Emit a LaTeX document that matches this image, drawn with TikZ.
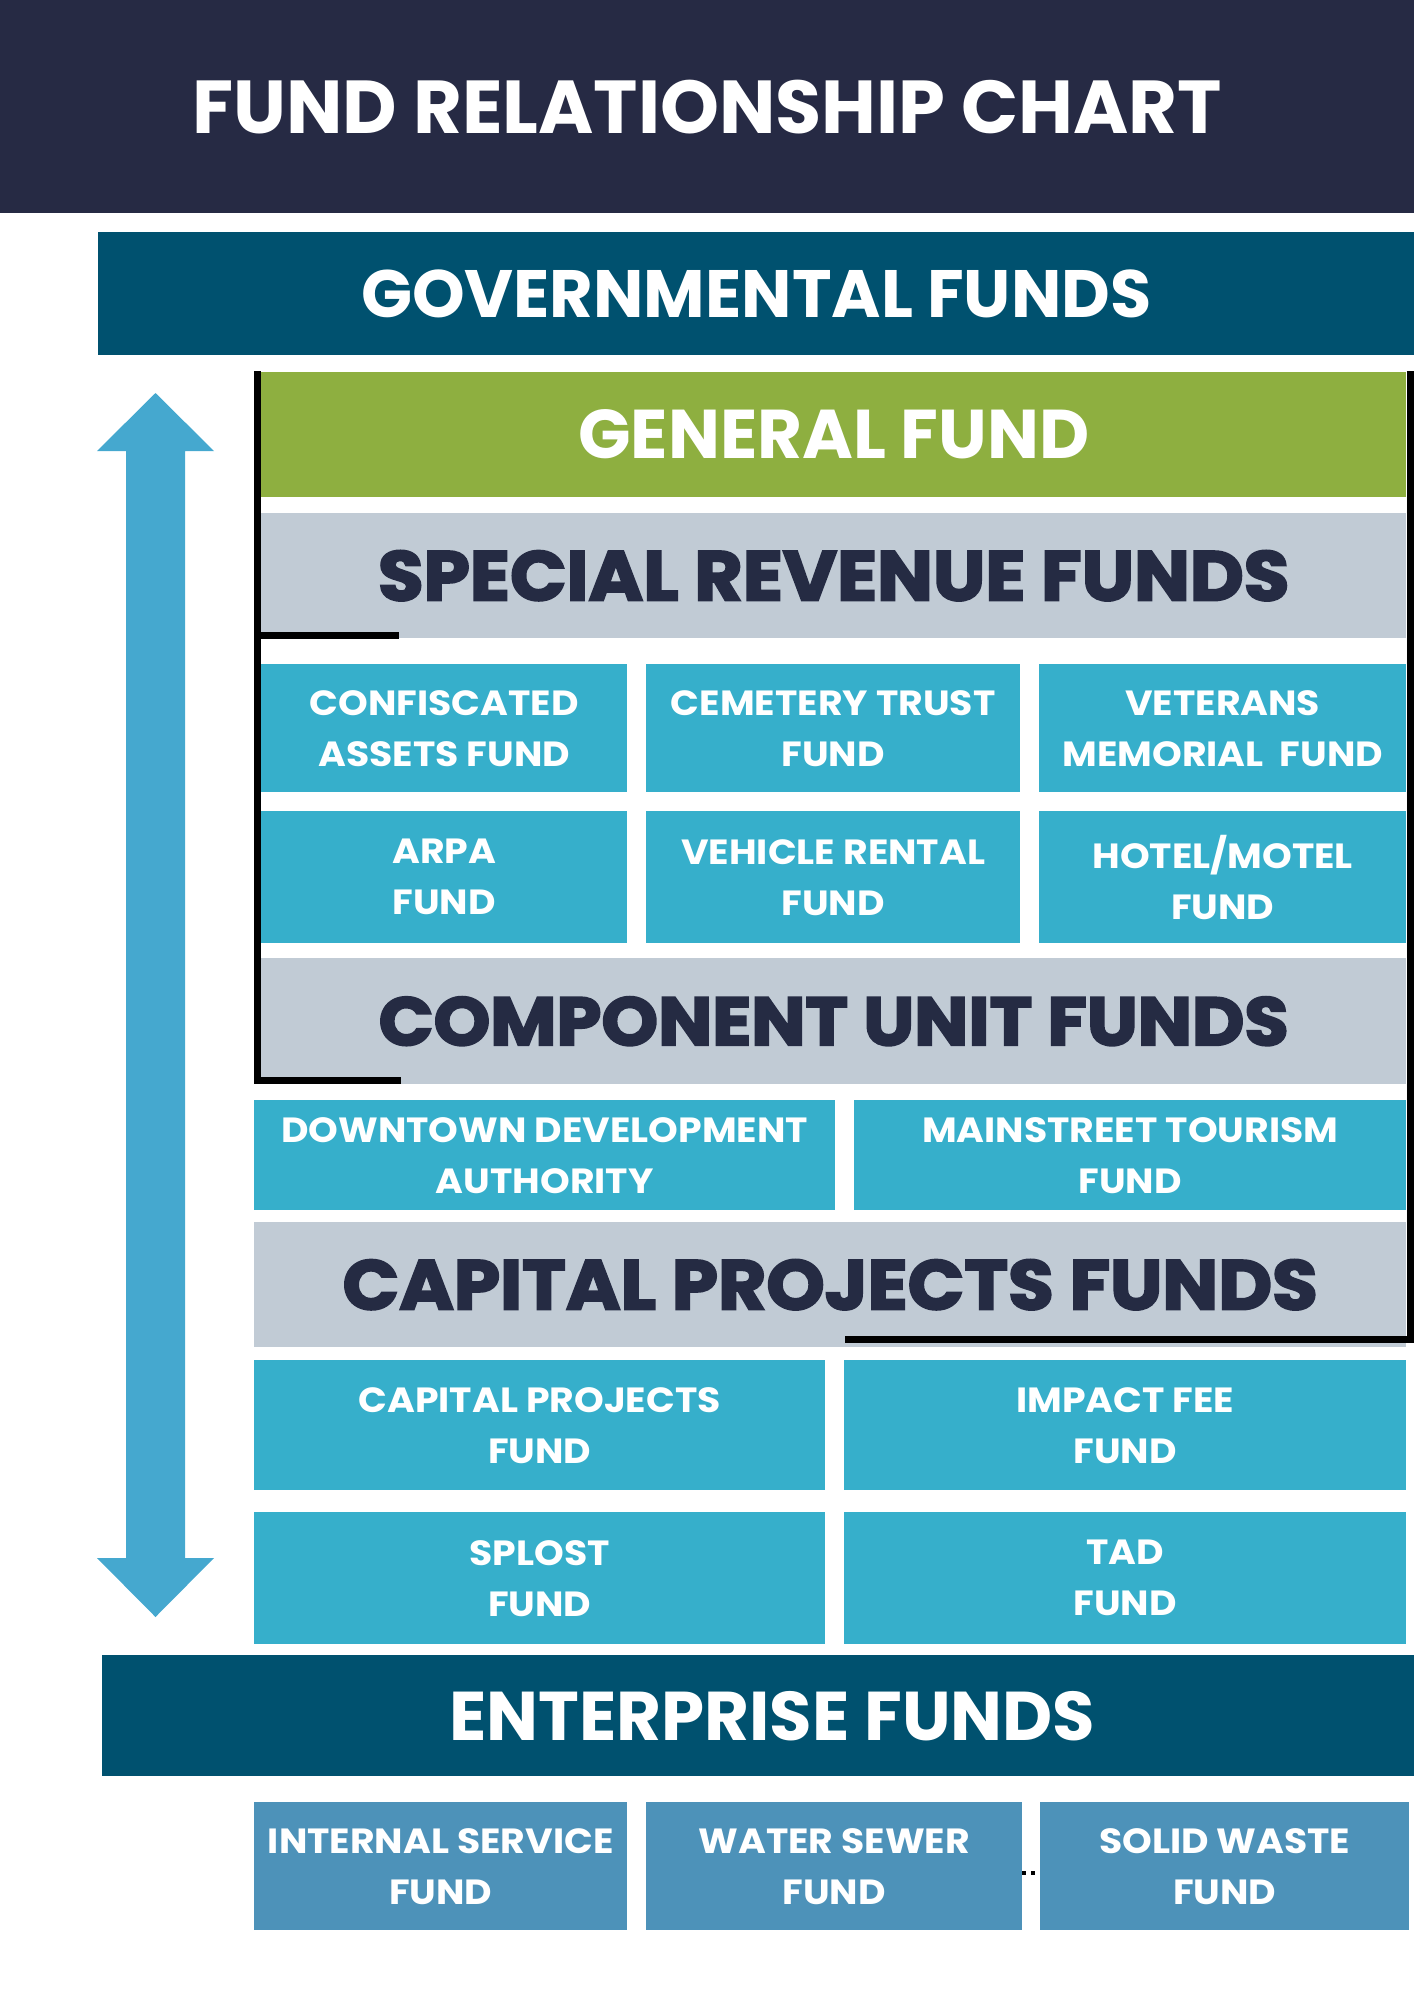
\documentclass[tikz,border=0pt]{standalone}
\usepackage{fontspec}
\setmainfont{Poppins}
\newfontfamily\heavyfont{Poppins}[BoldFeatures={FakeBold=3,FakeStretch=1.06}]
\newfontfamily\cellfont{Poppins}[BoldFeatures={FakeStretch=1.08}]
\definecolor{titlenavy}{HTML}{262A44}
\definecolor{govblue}{HTML}{00516F}
\definecolor{gengreen}{HTML}{8EAF40}
\definecolor{headgrey}{HTML}{C1CBD5}
\definecolor{headtext}{HTML}{252B43}
\definecolor{cellblue}{HTML}{36AFCB}
\definecolor{arrowblue}{HTML}{45A8CF}
\definecolor{lowblue}{HTML}{4D92B9}
\tikzset{
  band/.style={fill=govblue, text=white, font=\fontsize{69}{72}\selectfont\bfseries},
  heading/.style={fill=headgrey, text=headtext, font=\fontsize{70}{74}\selectfont\heavyfont\bfseries},
  cell/.style={fill=cellblue, text=white, align=center, font=\fontsize{35}{51}\selectfont\cellfont\bfseries},
  lowcell/.style={cell, fill=lowblue},
  frame/.style={line width=7pt, black}
}
% box from its top left corner, with width and height in px
\newcommand{\cellat}[7]{\node[#1, anchor=north west, inner sep=0pt, minimum width=#5pt, minimum height=#6pt] (#2) at (#3,#4) {#7};}
\begin{document}
\begin{tikzpicture}[x=1pt, y=-1pt]
\useasboundingbox (0,0) rectangle (1414,2000);
\cellat{band, fill=titlenavy, font=\fontsize{75}{80}\selectfont\bfseries}{title}{0}{0}{1414}{213}{FUND RELATIONSHIP CHART};
\cellat{band, font=\fontsize{67}{72}\selectfont\bfseries}{gov}{98}{232}{1316}{123}{GOVERNMENTAL FUNDS};
\cellat{band, fill=gengreen}{general}{261}{372}{1145}{125}{GENERAL FUND};
\cellat{heading}{special}{261}{513}{1145}{125}{SPECIAL REVENUE FUNDS};
% special revenue funds
\cellat{cell}{confiscated}{261}{664}{366}{128}{CONFISCATED\\ASSETS FUND};
\cellat{cell}{cemetery}{646}{664}{374}{128}{CEMETERY TRUST\\FUND};
\cellat{cell}{veterans}{1039}{664}{367}{128}{VETERANS\\MEMORIAL\ \ FUND};
\cellat{cell}{arpa}{261}{811}{366}{132}{ARPA\\FUND};
\cellat{cell}{vehicle}{646}{811}{374}{132}{VEHICLE RENTAL\\FUND};
\cellat{cell}{hotel}{1039}{811}{367}{132}{HOTEL/MOTEL\\FUND};
\cellat{heading, font=\fontsize{68}{74}\selectfont\heavyfont\bfseries}{component}{261}{958}{1145}{126}{COMPONENT UNIT FUNDS};
% component units
\cellat{cell}{downtown}{254}{1100}{581}{110}{DOWNTOWN DEVELOPMENT\\AUTHORITY};
\cellat{cell}{mainstreet}{854}{1100}{552}{110}{MAINSTREET TOURISM\\FUND};
\cellat{heading}{capital}{254}{1222}{1152}{125}{CAPITAL PROJECTS FUNDS};
% capital projects
\cellat{cell}{capproj}{254}{1360}{571}{130}{CAPITAL PROJECTS\\FUND};
\cellat{cell}{impact}{844}{1360}{562}{130}{IMPACT FEE\\FUND};
\cellat{cell}{splost}{254}{1512}{571}{132}{SPLOST\\FUND};
\cellat{cell}{tad}{844}{1512}{562}{132}{TAD\\FUND};
\cellat{band}{enterprise}{102}{1655}{1312}{121}{\hspace*{28pt}ENTERPRISE FUNDS};
% enterprise funds
\cellat{lowcell}{internal}{254}{1802}{373}{128}{INTERNAL SERVICE\\FUND};
\cellat{lowcell}{water}{646}{1802}{376}{128}{WATER SEWER\\FUND};
\cellat{lowcell}{waste}{1040}{1802}{369}{128}{SOLID WASTE\\FUND};
\draw[line width=4pt, dash pattern=on 4pt off 5pt] ([yshift=-7pt]water.east) -- ([yshift=-7pt]waste.west);
% black frame pieces
\draw[frame] (257.5,371) -- (257.5,1083);
\draw[frame] (254,635) -- (399,635);
\draw[frame] (254,1080) -- (401,1080);
\draw[frame] (1410.5,371) -- (1410.5,1343);
\draw[frame] (845,1339.5) -- (1414,1339.5);
% double arrow
\fill[arrowblue] (155.5,393) -- (214,451) -- (185,451) -- (185,1558) -- (214,1558)
  -- (155.5,1617) -- (97,1558) -- (126,1558) -- (126,451) -- (97,451) -- cycle;
\end{tikzpicture}
\end{document}
